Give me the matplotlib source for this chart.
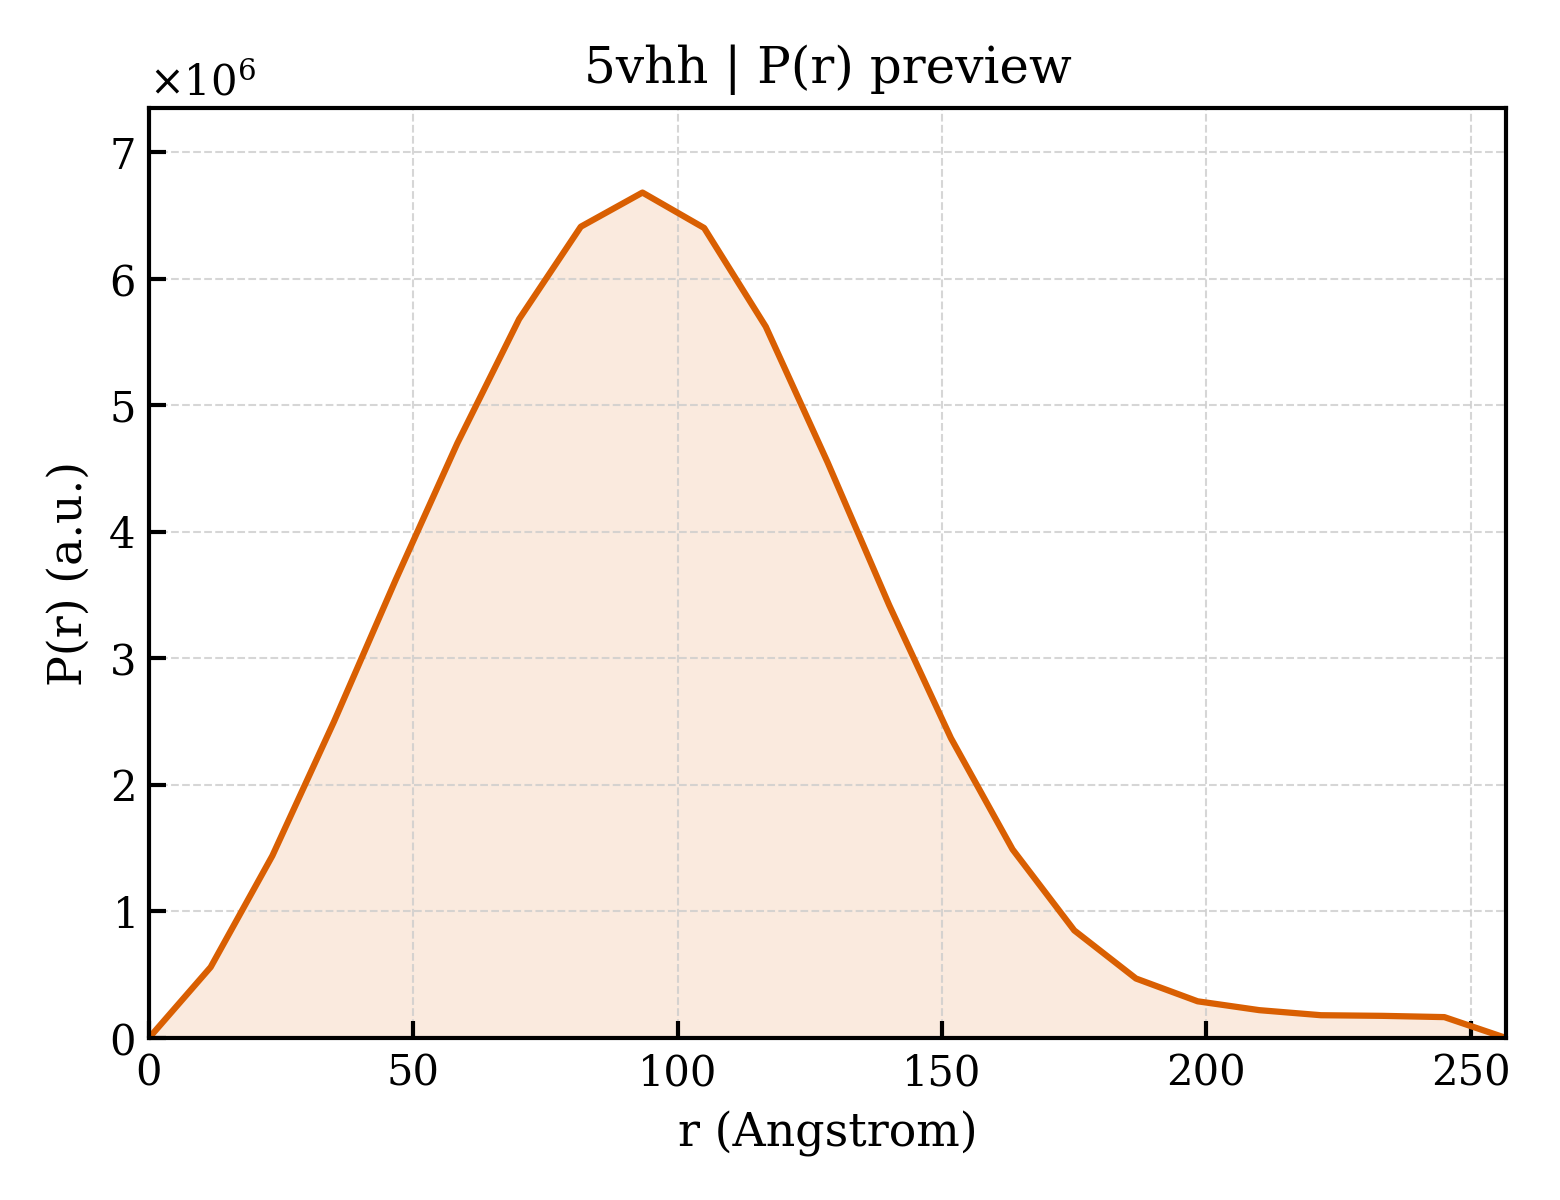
import matplotlib
matplotlib.use("Agg")
from matplotlib import pyplot as plt
import numpy as np

# P(r) for 5vhh (r in Angstrom, P in a.u.)
R_VALUES = [0.0, 11.67, 23.34, 35.0, 46.67, 58.34, 70.01, 81.68, 93.35,
            105.02, 116.68, 128.35, 140.02, 151.69, 163.36, 175.03, 186.7,
            198.36, 210.03, 221.7, 233.37, 245.04, 256.7]
PR_VALUES = [0.0, 0.56, 1.44, 2.50, 3.62, 4.70, 5.68, 6.41, 6.68,
             6.40, 5.62, 4.55, 3.42, 2.37, 1.49, 0.85, 0.47,
             0.29, 0.22, 0.18, 0.175, 0.165, 0.0]
SCALE = 1e6

LINE_COLOR = "#d95f02"


def main():
    plt.rcParams["font.family"] = ["DejaVu Serif"]
    plt.rcParams["mathtext.fontset"] = "dejavuserif"

    r = np.array(R_VALUES)
    pr = np.array(PR_VALUES) * SCALE

    fig, ax = plt.subplots(figsize=(5.2, 4.0), dpi=300)
    fig.subplots_adjust(left=0.0955, right=0.9654, bottom=0.135, top=0.91)

    ax.fill_between(r, pr, 0, color=LINE_COLOR, alpha=0.13, linewidth=0)
    ax.plot(r, pr, color=LINE_COLOR, linewidth=1.5)

    ax.set_xlim(0, r.max())
    ax.set_ylim(0, pr.max() * 1.1)

    ax.set_title("5vhh | P(r) preview", fontsize=12)
    ax.set_xlabel("r (Angstrom)", fontsize=11)
    ax.set_ylabel("P(r) (a.u.)", fontsize=11)

    ax.ticklabel_format(axis="y", style="sci", scilimits=(0, 0), useMathText=True)
    ax.yaxis.get_offset_text().set_fontsize(10)
    ax.tick_params(direction="in", length=4, width=1, labelsize=10)
    for spine in ax.spines.values():
        spine.set_linewidth(1.0)

    ax.grid(True, linestyle="--", linewidth=0.5, color="#cccccc", alpha=0.8)

    fig.savefig("out.png", dpi=300)


if __name__ == '__main__':
    main()
